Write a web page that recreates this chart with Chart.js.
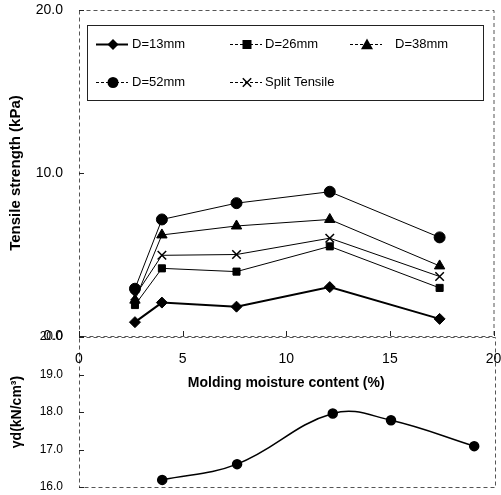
<!DOCTYPE html>
<html>
<head>
<meta charset="utf-8">
<script src="https://cdn.jsdelivr.net/npm/chart.js"></script>
<style>
  body { margin: 0; padding: 0; background: #fff; }
  #wrap { position: relative; width: 501px; height: 495px; }
  canvas { position: absolute; left: 0; top: 0; }
</style>
</head>
<body>
<div id="wrap">
  <canvas id="densityChart" width="501" height="495"></canvas>
  <canvas id="tensileChart" width="501" height="400"></canvas>
</div>
<script>
// values
const moisture = [2.7, 4.0, 7.6, 12.1, 17.4];
const d13 = [0.85, 2.05, 1.8, 3.0, 1.05];
const d26 = [1.9, 4.15, 3.95, 5.5, 2.95];
const d38 = [2.2, 6.2, 6.75, 7.15, 4.3];
const d52 = [2.9, 7.15, 8.15, 8.85, 6.05];
const splitTensile = [2.45, 4.95, 5.0, 6.0, 3.65];
const seriesNames = ['D=13mm', 'D=26mm', 'D=38mm', 'D=52mm', 'Split Tensile'];

const densityMoisture = [4.0, 7.6, 12.2, 15.0, 19.0];
const dryDensity = [16.19, 16.61, 17.96, 17.78, 17.09];

const moistureTicks = [0, 5, 10, 15, 20];
const tensileTicks = [0, 10, 20];
const densityTicks = [16, 17, 18, 19, 20];

const FONT = "'Liberation Sans', Arial, sans-serif";

function pts(xs, ys) {
  return xs.map((x, i) => ({ x: x, y: ys[i] }));
}

function marker(ctx, style, r, x, y) {
  ctx.beginPath();
  if (style === 'circle') {
    ctx.arc(x, y, r, 0, Math.PI * 2);
    ctx.fill();
  } else if (style === 'rect') {
    ctx.fillRect(x - r * 0.9, y - r * 0.9, r * 1.8, r * 1.8);
  } else if (style === 'rectRot') {
    ctx.moveTo(x, y - r); ctx.lineTo(x + r, y); ctx.lineTo(x, y + r); ctx.lineTo(x - r, y);
    ctx.closePath(); ctx.fill();
  } else if (style === 'triangle') {
    ctx.moveTo(x, y - r); ctx.lineTo(x + r, y + r * 0.8); ctx.lineTo(x - r, y + r * 0.8);
    ctx.closePath(); ctx.fill();
  } else if (style === 'crossRot') {
    ctx.lineWidth = 1.5;
    ctx.moveTo(x - r * 0.7, y - r * 0.7); ctx.lineTo(x + r * 0.7, y + r * 0.7);
    ctx.moveTo(x + r * 0.7, y - r * 0.7); ctx.lineTo(x - r * 0.7, y + r * 0.7);
    ctx.stroke();
  }
}

// dashed box round the plot + small inward tick marks
const frame = {
  id: 'frame',
  beforeDatasetsDraw(chart) {
    const { ctx, chartArea: a, scales } = chart;
    ctx.save();
    ctx.strokeStyle = '#555';
    ctx.lineWidth = 1;
    ctx.setLineDash([4, 3]);
    ctx.strokeRect(a.left + 0.5, a.top + 0.5, a.width, a.height);
    ctx.setLineDash([]);
    ctx.strokeStyle = '#222';
    ctx.beginPath();
    scales.y.ticks.forEach(t => {
      const py = Math.round(scales.y.getPixelForValue(t.value)) + 0.5;
      ctx.moveTo(a.left, py); ctx.lineTo(a.left + 5, py);
    });
    if (chart.options.plugins.frame && chart.options.plugins.frame.xTicks) {
      scales.x.ticks.forEach(t => {
        const px = Math.round(scales.x.getPixelForValue(t.value)) + 0.5;
        ctx.moveTo(px, a.bottom); ctx.lineTo(px, a.bottom - 5);
      });
    }
    ctx.stroke();
    ctx.restore();
  }
};

// legend box drawn inside the plot
const boxLegend = {
  id: 'boxLegend',
  afterDatasetsDraw(chart) {
    const { ctx, chartArea: a } = chart;
    const slots = [[34, 53, 34], [168, 186, 34], [288, 316, 34], [34, 53, 72], [168, 186, 72]];
    ctx.save();
    ctx.fillStyle = '#fff';
    ctx.fillRect(a.left + 8, a.top + 15, 396, 75);
    ctx.strokeStyle = '#222';
    ctx.lineWidth = 1;
    ctx.strokeRect(a.left + 8.5, a.top + 15.5, 396, 75);
    chart.data.datasets.forEach((ds, i) => {
      const [mx, tx, my] = slots[i];
      const x = a.left + mx, y = a.top + my + 0.5;
      ctx.strokeStyle = '#000';
      ctx.fillStyle = '#000';
      ctx.lineWidth = ds.borderWidth;
      ctx.setLineDash(i === 0 ? [] : [3, 2]);
      ctx.beginPath();
      ctx.moveTo(x - 17, y); ctx.lineTo(x + 15, y);
      ctx.stroke();
      ctx.setLineDash([]);
      marker(ctx, ds.pointStyle, ds.pointRadius, x, y);
      ctx.font = '13px ' + FONT;
      ctx.textBaseline = 'middle';
      ctx.fillText(ds.label, a.left + tx, y);
    });
    ctx.restore();
  }
};

function series(i, ys, style, r, w) {
  return {
    label: seriesNames[i],
    data: pts(moisture, ys),
    borderColor: '#000',
    backgroundColor: '#000',
    borderWidth: w,
    pointStyle: style,
    pointRadius: r,
    pointBorderWidth: style === 'crossRot' ? 1.5 : 1,
    tension: 0
  };
}

// keep the plot box where it is in the picture, labels may hang over
function fixY(s) {
  s.width = 79;
  s.paddingTop = 0;
  s.paddingBottom = 0;
}

new Chart(document.getElementById('densityChart'), {
  type: 'line',
  data: {
    datasets: [{
      label: 'dry density',
      data: pts(densityMoisture, dryDensity),
      borderColor: '#000',
      backgroundColor: '#000',
      borderWidth: 1.5,
      pointRadius: 4.5,
      tension: 0.4
    }]
  },
  options: {
    responsive: false,
    animation: false,
    layout: { padding: { left: 0, right: 4, top: 337, bottom: 8 } },
    plugins: { legend: { display: false }, tooltip: { enabled: false }, frame: { xTicks: false } },
    scales: {
      x: { type: 'linear', min: 0, max: 20, display: false },
      y: {
        min: 16, max: 20,
        afterFit: fixY,
        afterBuildTicks: s => { s.ticks = densityTicks.map(v => ({ value: v })); },
        grid: { display: false, drawTicks: false },
        border: { display: false },
        ticks: { color: '#000', padding: 16, font: { family: FONT, size: 12 }, callback: v => v.toFixed(1) },
        title: { display: true, text: 'γd(kN/cm³)', color: '#000', padding: { top: 9 }, font: { family: FONT, size: 14, weight: 'bold' } }
      }
    }
  },
  plugins: [frame]
});

new Chart(document.getElementById('tensileChart'), {
  type: 'line',
  data: {
    datasets: [
      series(0, d13, 'rectRot', 5.5, 2),
      series(1, d26, 'rect', 5, 1),
      series(2, d38, 'triangle', 6, 1),
      series(3, d52, 'circle', 5.5, 1),
      series(4, splitTensile, 'crossRot', 6, 1)
    ]
  },
  options: {
    responsive: false,
    animation: false,
    layout: { padding: { left: 0, right: 4, top: 10, bottom: 0 } },
    plugins: { legend: { display: false }, tooltip: { enabled: false }, frame: { xTicks: true } },
    scales: {
      x: {
        type: 'linear', min: 0, max: 20,
        afterFit: s => { s.height = 64; s.paddingLeft = 0; s.paddingRight = 0; },
        afterBuildTicks: s => { s.ticks = moistureTicks.map(v => ({ value: v })); },
        grid: { display: false, drawTicks: false },
        border: { display: false },
        ticks: { color: '#000', padding: 15, font: { family: FONT, size: 14 } },
        title: { display: true, text: 'Molding moisture content (%)', color: '#000', padding: { bottom: 8 }, font: { family: FONT, size: 14, weight: 'bold' } }
      },
      y: {
        min: 0, max: 20,
        afterFit: fixY,
        afterBuildTicks: s => { s.ticks = tensileTicks.map(v => ({ value: v })); },
        grid: { display: false, drawTicks: false },
        border: { display: false },
        ticks: { color: '#000', padding: 16, font: { family: FONT, size: 14 }, callback: v => v.toFixed(1) },
        title: { display: true, text: 'Tensile strength (kPa)', color: '#000', padding: { top: 7 }, font: { family: FONT, size: 15, weight: 'bold' } }
      }
    }
  },
  plugins: [frame, boxLegend]
});
</script>
</body>
</html>
